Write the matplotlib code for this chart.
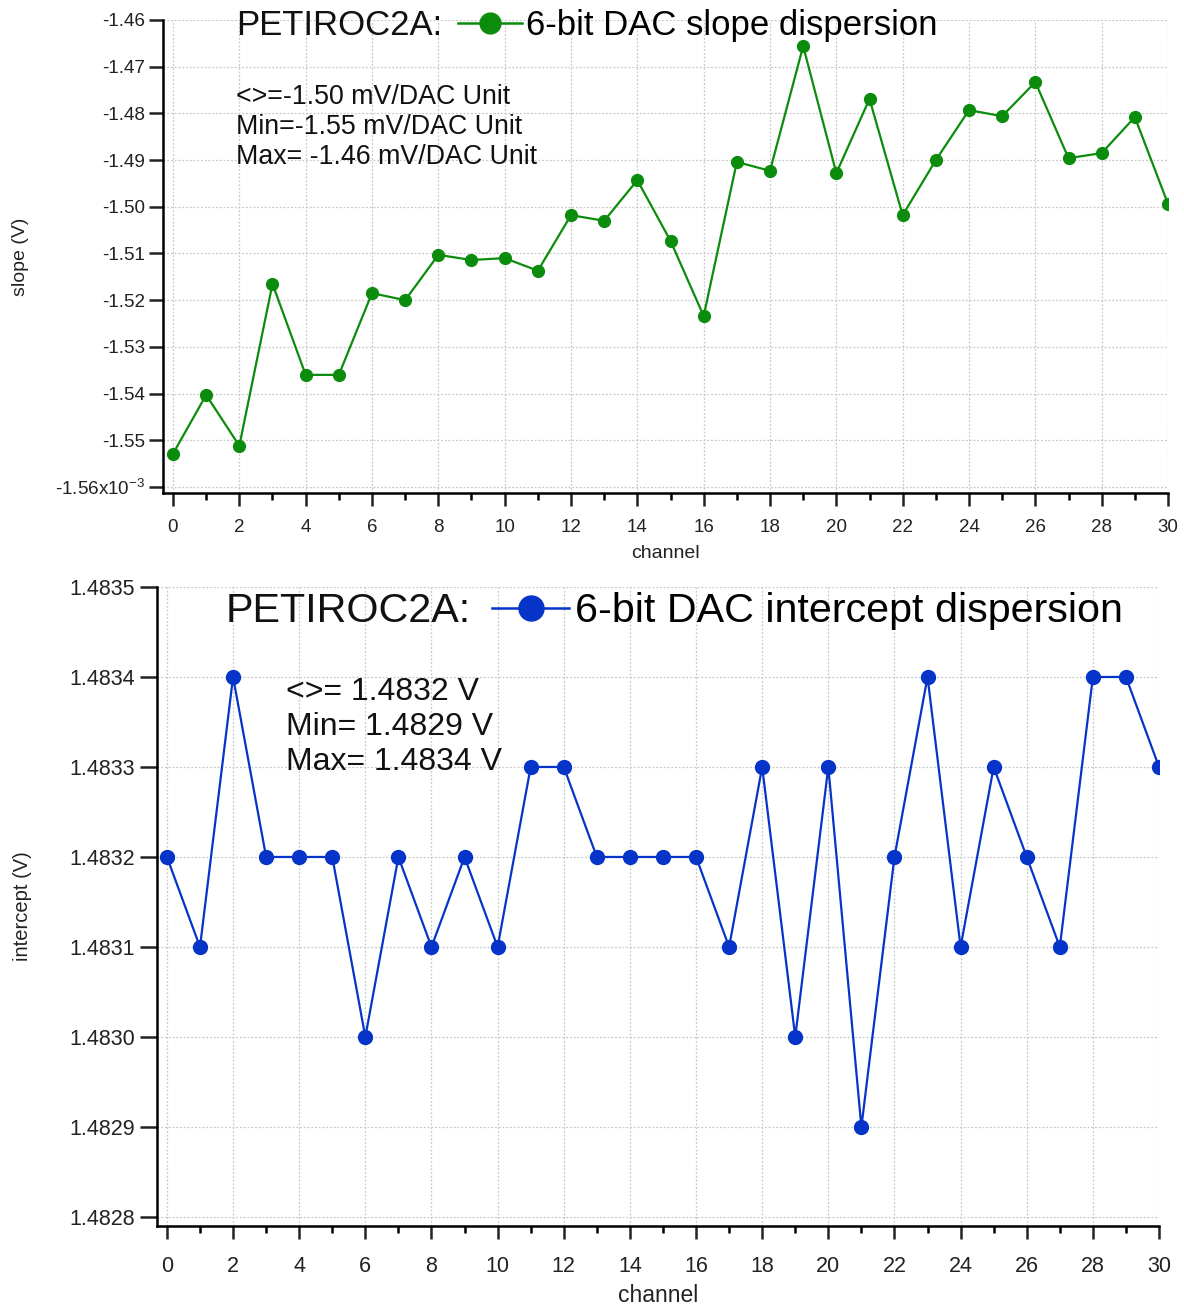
import numpy as np
import matplotlib.pyplot as plt
from matplotlib.ticker import MultipleLocator, FixedLocator, FuncFormatter
from matplotlib.lines import Line2D

plt.rcParams['font.family'] = ['Liberation Sans', 'DejaVu Sans']
plt.rcParams['axes.unicode_minus'] = False

# data
channels = list(range(31))
slope_mV = [-1.5529, -1.5403, -1.5512, -1.5165, -1.5360, -1.5360, -1.5185, -1.5200,
            -1.5103, -1.5114, -1.5110, -1.5137, -1.5018, -1.5030, -1.4943, -1.5073,
            -1.5234, -1.4904, -1.4923, -1.4656, -1.4928, -1.4769, -1.5018, -1.4900,
            -1.4793, -1.4806, -1.4733, -1.4896, -1.4885, -1.4808, -1.4994]
intercept_V = [1.4832, 1.4831, 1.4834, 1.4832, 1.4832, 1.4832, 1.4830, 1.4832,
               1.4831, 1.4832, 1.4831, 1.4833, 1.4833, 1.4832, 1.4832, 1.4832,
               1.4832, 1.4831, 1.4833, 1.4830, 1.4833, 1.4829, 1.4832, 1.4834,
               1.4831, 1.4833, 1.4832, 1.4831, 1.4834, 1.4834, 1.4833]
slope_ticks = [-1.56, -1.55, -1.54, -1.53, -1.52, -1.51, -1.50, -1.49, -1.48, -1.47, -1.46]
intercept_ticks = [1.4828, 1.4829, 1.4830, 1.4831, 1.4832, 1.4833, 1.4834, 1.4835]

green = '#0c8c0c'
blue = '#0634c8'

fig = plt.figure(figsize=(11.84, 13.07), dpi=100)
ax1 = fig.add_axes([0.1377, 0.6228, 0.8488, 0.3619])
ax2 = fig.add_axes([0.1326, 0.0620, 0.8463, 0.4889])


def style_axes(ax, xsize, ysize, ylen, ypad, xpad):
    for s in ['top', 'right']:
        ax.spines[s].set_visible(False)
    for s in ['left', 'bottom']:
        ax.spines[s].set_linewidth(1.8)
    ax.set_xlim(-0.3, 30)
    ax.xaxis.set_major_locator(MultipleLocator(2))
    ax.xaxis.set_minor_locator(MultipleLocator(1))
    ax.tick_params(axis='x', which='major', length=9.5, width=1.8, labelsize=xsize,
                   colors='#222222', pad=xpad)
    ax.tick_params(axis='x', which='minor', length=5, width=1.8)
    ax.tick_params(axis='y', which='major', length=ylen, width=1.8, labelsize=ysize,
                   colors='#222222', pad=ypad)
    ax.grid(True, which='major', color='#c8c8c8', linestyle=(0, (1.5, 1.5)), linewidth=0.9)
    ax.set_axisbelow(True)


def add_title(ax, x, y, label, color, ms, size, gap_px, hlen, hpad):
    t = ax.text(x, y, 'PETIROC2A:', transform=ax.transAxes, fontsize=size,
                ha='left', va='center', color='#111111')
    fig.canvas.draw()
    bb = t.get_window_extent()
    xa, ya = ax.transAxes.inverted().transform((bb.x1 + gap_px, (bb.y0 + bb.y1) / 2))
    h = Line2D([], [], color=color, marker='o', markersize=ms, linewidth=1.8)
    ax.legend([h], [label], loc='center left', bbox_to_anchor=(xa, y),
              frameon=False, fontsize=size, handlelength=hlen, handletextpad=hpad,
              borderpad=0, borderaxespad=0)


# top: slope
style_axes(ax1, 13.5, 13.6, 10, 3, 9)
ax1.plot(channels, slope_mV, color=green, marker='o', markersize=8.5, linewidth=1.6)
ax1.set_ylim(-1.5613, -1.4600)
ax1.yaxis.set_major_locator(FixedLocator(slope_ticks))
ax1.yaxis.set_major_formatter(FuncFormatter(
    lambda v, p: r'-1.56x10$^{\mathdefault{-3}}$' if abs(v + 1.56) < 1e-6 else '%.2f' % v))
ax1.set_ylabel('slope (V)', fontsize=14, color='#222222')
ax1.yaxis.set_label_coords(-0.133, 0.5)
ax1.set_xlabel('channel', fontsize=14, color='#222222')
ax1.xaxis.set_label_coords(0.5, -0.11)
add_title(ax1, 0.0726, 0.988, '6-bit DAC slope dispersion', green, 15, 25, 16, 1.84, 0.12)
ax1.text(0.0726, 0.774, '<>=-1.50 mV/DAC Unit\nMin=-1.55 mV/DAC Unit\nMax= -1.46 mV/DAC Unit',
         transform=ax1.transAxes, fontsize=19.3, va='center', ha='left', linespacing=1.2,
         color='#111111')

# bottom: intercept
style_axes(ax2, 15.5, 15.5, 12, 4, 12)
ax2.plot(channels, intercept_V, color=blue, marker='o', markersize=10, linewidth=1.6)
ax2.set_ylim(1.48279, 1.4835)
ax2.yaxis.set_major_locator(FixedLocator(intercept_ticks))
ax2.yaxis.set_major_formatter(FuncFormatter(lambda v, p: '%.4f' % v))
ax2.set_ylabel('intercept (V)', fontsize=14.5, color='#222222')
ax2.yaxis.set_label_coords(-0.125, 0.5)
ax2.set_xlabel('channel', fontsize=16.5, color='#222222')
ax2.xaxis.set_label_coords(0.5, -0.091)
add_title(ax2, 0.0689, 0.962, '6-bit DAC intercept dispersion', blue, 18, 29.7, 21, 1.87, 0.15)
ax2.text(0.1287, 0.781, '<>= 1.4832 V\nMin= 1.4829 V\nMax= 1.4834 V',
         transform=ax2.transAxes, fontsize=23, va='center', ha='left', linespacing=1.22,
         color='#111111')

fig.savefig('out.png', dpi=100)
